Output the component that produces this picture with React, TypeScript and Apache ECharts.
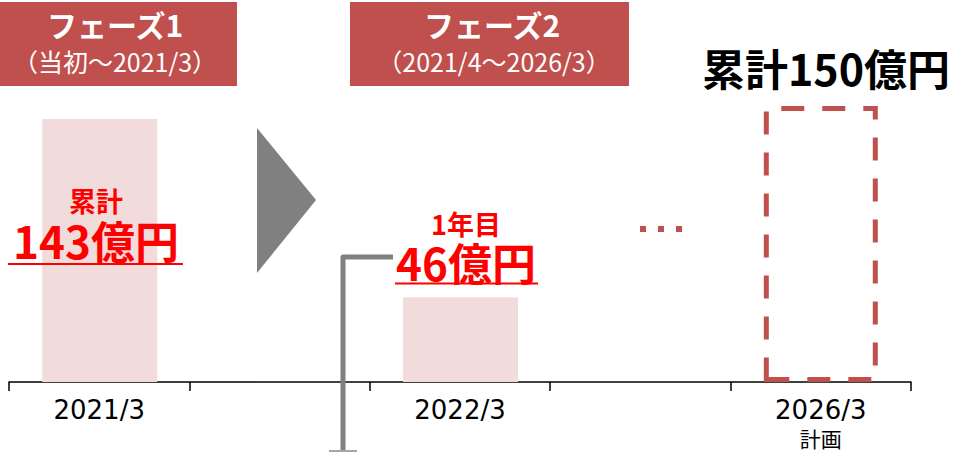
import React, { useEffect, useRef } from "react";
import * as echarts from "echarts";

const categories = ["2021/3", "gap-a", "2022/3", "gap-b", "2026/3"];
const tickLabels = ["2021/3", "", "2022/3", "", "2026/3"];
const planNote = "計画";
const actualValues: (number | null)[] = [143, null, 46, null, null];
const planValues: (number | null)[] = [null, null, null, null, 150];

const phaseTitles = ["フェーズ1", "フェーズ2"];
const phaseSubtitles = ["（当初～2021/3）", "（2021/4～2026/3）"];
const cumLabel = "累計";
const cumValueLabel = "143億円";
const firstYearLabel = "1年目";
const firstYearValueLabel = "46億円";
const planTotalLabel = "累計150億円";

const RED = "#c0504d";
const PINK = "#f2dcdb";
const GRAY = "#808080";
const JP = "'Noto Sans CJK JP', 'Noto Sans', sans-serif";

export default function App() {
  const ref = useRef<HTMLDivElement>(null);
  useEffect(() => {
    if (!ref.current) return;
    const chart = echarts.init(ref.current, null, { renderer: "svg" });
    chart.setOption({
      animation: false,
      backgroundColor: "#ffffff",
      grid: { left: 9, right: 47, top: 14, bottom: 70, containLabel: false },
      xAxis: {
        type: "category",
        data: categories,
        boundaryGap: true,
        axisLine: { show: true, lineStyle: { color: "#000", width: 1.5 } },
        axisTick: { show: true, length: 9, lineStyle: { color: "#000", width: 1.5 } },
        axisLabel: {
          interval: 0,
          margin: 13,
          formatter: (_v: string, i: number) =>
            i === 4 ? `{a|${tickLabels[i]}}\n{b|${planNote}}` : `{a|${tickLabels[i]}}`,
          rich: {
            a: { fontFamily: "'DejaVu Sans', Verdana, sans-serif", fontSize: 26, color: "#000", lineHeight: 29 },
            b: { fontFamily: JP, fontSize: 21, color: "#000", lineHeight: 27 },
          },
        },
      },
      yAxis: { type: "value", min: 0, max: 200, show: false, splitLine: { show: false } },
      series: [
        {
          name: "実績",
          type: "bar",
          data: actualValues,
          barWidth: 115,
          barGap: "-100%",
          z: 1,
          itemStyle: { color: PINK },
        },
        {
          name: "計画",
          type: "bar",
          data: planValues,
          barWidth: 114,
          barGap: "-100%",
          z: 1,
          itemStyle: {
            color: "rgba(0,0,0,0)",
            borderColor: RED,
            borderWidth: 5,
            borderType: [23, 18],
          },
        },
      ],
      graphic: {
        z: 100,
        elements: [
          { type: "rect", z: 100, shape: { x: 0, y: 2, width: 237, height: 84 }, style: { fill: RED } },
          { type: "rect", z: 100, shape: { x: 350, y: 2, width: 279, height: 84 }, style: { fill: RED } },
          {
            type: "text", z: 101, x: 115, y: 24,
            style: { text: phaseTitles[0], fill: "#fff", font: `bold 30px ${JP}`, align: "center", verticalAlign: "middle" },
          },
          {
            type: "text", z: 101, x: 115, y: 61,
            style: { text: phaseSubtitles[0], fill: "#fff", font: `25px ${JP}`, align: "center", verticalAlign: "middle" },
          },
          {
            type: "text", z: 101, x: 492, y: 24,
            style: { text: phaseTitles[1], fill: "#fff", font: `bold 30px ${JP}`, align: "center", verticalAlign: "middle" },
          },
          {
            type: "text", z: 101, x: 494, y: 61,
            style: { text: phaseSubtitles[1], fill: "#fff", font: `25px ${JP}`, align: "center", verticalAlign: "middle" },
          },
          {
            type: "text", z: 101, x: 826, y: 67,
            style: { text: planTotalLabel, fill: "#000", font: `bold 43px ${JP}`, align: "center", verticalAlign: "middle" },
          },
          {
            type: "polygon", z: 100,
            shape: { points: [[257, 128], [316, 200], [257, 273]] },
            style: { fill: GRAY },
          },
          {
            type: "text", z: 101, x: 96, y: 225,
            style: {
              text: `{a|${cumLabel}}\n{b|${cumValueLabel}}`,
              align: "center",
              verticalAlign: "middle",
              rich: {
                a: { fill: "#ff0000", fontFamily: JP, fontWeight: "bold", fontSize: 27, lineHeight: 30, align: "center" },
                b: { fill: "#ff0000", fontFamily: JP, fontWeight: "bold", fontSize: 44, lineHeight: 50, align: "center" },
              },
            },
          },
          { type: "line", z: 100, shape: { x1: 8, y1: 264, x2: 183, y2: 264 }, style: { stroke: "#ff0000", lineWidth: 2 } },
          {
            type: "text", z: 101, x: 466, y: 247,
            style: {
              text: `{a|${firstYearLabel}}\n{b|${firstYearValueLabel}}`,
              align: "center",
              verticalAlign: "middle",
              rich: {
                a: { fill: "#ff0000", fontFamily: JP, fontWeight: "bold", fontSize: 27, lineHeight: 30, align: "center" },
                b: { fill: "#ff0000", fontFamily: JP, fontWeight: "bold", fontSize: 44, lineHeight: 48, align: "center" },
              },
            },
          },
          { type: "line", z: 100, shape: { x1: 395, y1: 283.5, x2: 538, y2: 283.5 }, style: { stroke: "#ff0000", lineWidth: 2 } },
          {
            type: "polyline", z: 100,
            shape: { points: [[343, 452], [343, 257], [393, 257]] },
            style: { stroke: GRAY, lineWidth: 5, fill: "none", lineJoin: "round" },
          },
          { type: "rect", z: 100, shape: { x: 329, y: 450, width: 28, height: 2 }, style: { fill: "#a6a6a6" } },
          { type: "rect", z: 100, shape: { x: 640, y: 226, width: 6, height: 6 }, style: { fill: RED } },
          { type: "rect", z: 100, shape: { x: 658, y: 226, width: 6, height: 6 }, style: { fill: RED } },
          { type: "rect", z: 100, shape: { x: 676, y: 226, width: 6, height: 6 }, style: { fill: RED } },
        ],
      },
    });
    return () => chart.dispose();
  }, []);
  return (
    <div
      ref={ref}
      style={{ position: "fixed", left: 0, top: 0, width: 958, height: 452 }}
    />
  );
}
